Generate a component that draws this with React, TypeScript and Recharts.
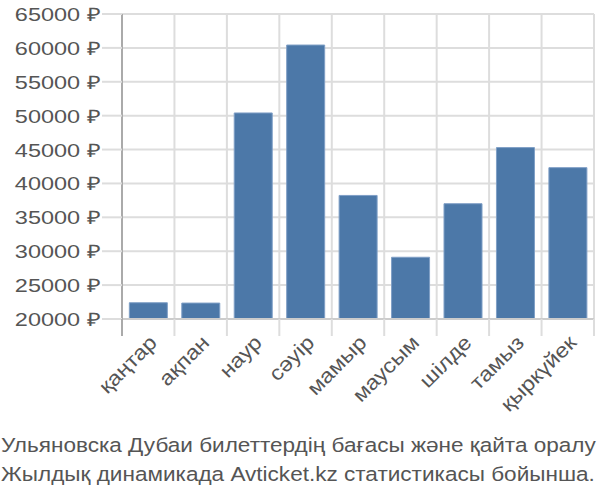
import { BarChart, Bar, XAxis, YAxis, CartesianGrid } from 'recharts';

const months = ['қаңтар', 'ақпан', 'наур', 'сәуір', 'мамыр', 'маусым', 'шілде', 'тамыз', 'қыркүйек'];
const prices = [22400, 22350, 50400, 60420, 38230, 29110, 37010, 45290, 42330];
const yTicks = [20000, 25000, 30000, 35000, 40000, 45000, 50000, 55000, 60000, 65000];

const chartData = months.map((m, i) => ({ month: m, price: prices[i] }));

const font = '"Liberation Sans", Arial, sans-serif';

const MonthTick = (props: any) => {
    const { x, y, payload, index } = props;
    const half = payload.offset || 0;
    const last = index === months.length - 1;
    const tx = x + 5;
    const ty = y + 12;
    return (
        <g>
            <line x1={x - half} y1={y - 8} x2={x - half} y2={y + 9} stroke={index === 0 ? '#aaa' : '#ddd'} strokeWidth={2} />
            {last && <line x1={x + half} y1={y - 8} x2={x + half} y2={y + 9} stroke="#ddd" strokeWidth={2} />}
            <text
                x={0}
                y={0}
                dy={7}
                textAnchor="end"
                fill="#555"
                fontSize={20.5}
                fontFamily={font}
                transform={`translate(${tx} ${ty}) rotate(-45) scale(1.13 1)`}
            >
                {payload.value}
            </text>
        </g>
    );
};

const PriceTick = (props: any) => {
    const { x, y, payload } = props;
    return (
        <text
            x={0}
            y={0}
            dy={7}
            textAnchor="end"
            fill="#555"
            fontSize={18.5}
            fontFamily={font}
            transform={`translate(${x} ${y}) scale(1.27 1)`}
        >
            {`${payload.value} ₽`}
        </text>
    );
};

const App = () => {
    return (
        <div style={{ position: 'absolute', left: 0, top: 0, width: 600, height: 500, background: '#fff' }}>
            <BarChart width={600} height={430} data={chartData} margin={{ top: 14, right: 6, left: 0, bottom: 0 }} barCategoryGap="14%">
                <CartesianGrid
                    stroke="#ddd"
                    strokeWidth={2}
                    verticalCoordinatesGenerator={({ offset }: any) =>
                        months.map((_, i) => offset.left + (offset.width * i) / months.length).concat(offset.left + offset.width)
                    }
                />
                <XAxis
                    dataKey="month"
                    interval={0}
                    height={111}
                    axisLine={{ stroke: '#ccc', strokeWidth: 2 }}
                    tickLine={false}
                    tick={<MonthTick />}
                />
                <YAxis
                    width={122}
                    domain={[20000, 65000]}
                    ticks={yTicks}
                    interval={0}
                    tickSize={20}
                    tickMargin={2}
                    tickLine={{ stroke: '#ddd', strokeWidth: 2 }}
                    axisLine={{ stroke: '#aaa', strokeWidth: 2 }}
                    tick={<PriceTick />}
                />
                <Bar dataKey="price" fill="#4c78a8" stroke="#7f9fc6" strokeWidth={1} isAnimationActive={false} />
            </BarChart>
            <div
                style={{
                    position: 'absolute',
                    left: 1,
                    top: 430,
                    fontFamily: font,
                    fontSize: 20.5,
                    color: '#555',
                    lineHeight: '29px',
                    whiteSpace: 'nowrap',
                    transform: 'scaleX(1.1)',
                    transformOrigin: 'left top',
                }}
            >
                <div>Ульяновска Дубаи билеттердің бағасы және қайта оралу</div>
                <div>Жылдық динамикада Avticket.kz статистикасы бойынша.</div>
            </div>
        </div>
    );
};

export default App;
